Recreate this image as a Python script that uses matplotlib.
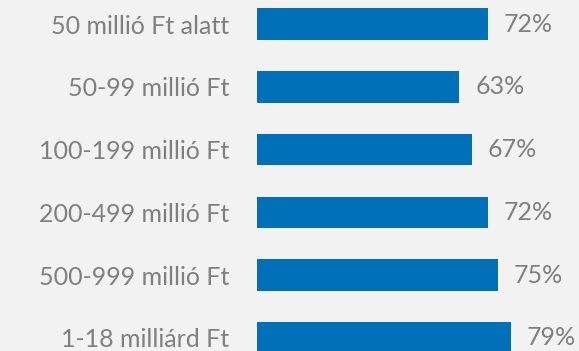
import matplotlib.pyplot as plt

# data
categories = ["50 millió Ft alatt", "50-99 millió Ft", "100-199 millió Ft",
              "200-499 millió Ft", "500-999 millió Ft", "1-18 milliárd Ft"]
values = [72, 63, 67, 72, 75, 79]
value_labels = [str(v) + "%" for v in values]

bg = "#F2F2F2"
blue = "#0070B8"
grey = "#7F7F7F"

plt.rcParams["font.family"] = ["Lato", "DejaVu Sans"]

fig = plt.figure(figsize=(5.79, 3.51), dpi=100, facecolor=bg)
ax = fig.add_axes([257 / 579, 0, 322 / 579, 1])
ax.set_facecolor(bg)

y = list(range(len(categories)))
bars = ax.barh(y, values, height=0.5, color=blue)
ax.bar_label(bars, labels=value_labels, padding=11.5, color=grey, fontsize=18)

ax.set_yticks(y)
ax.set_yticklabels(categories, color=grey, fontsize=18)
ax.tick_params(axis="y", length=0, pad=20)
ax.set_xticks([])
ax.set_xlim(0, 322 / 3.21)
ax.set_ylim(5.21, -0.385)
for s in ax.spines.values():
    s.set_visible(False)

fig.savefig("out.png", dpi=100, facecolor=bg)
